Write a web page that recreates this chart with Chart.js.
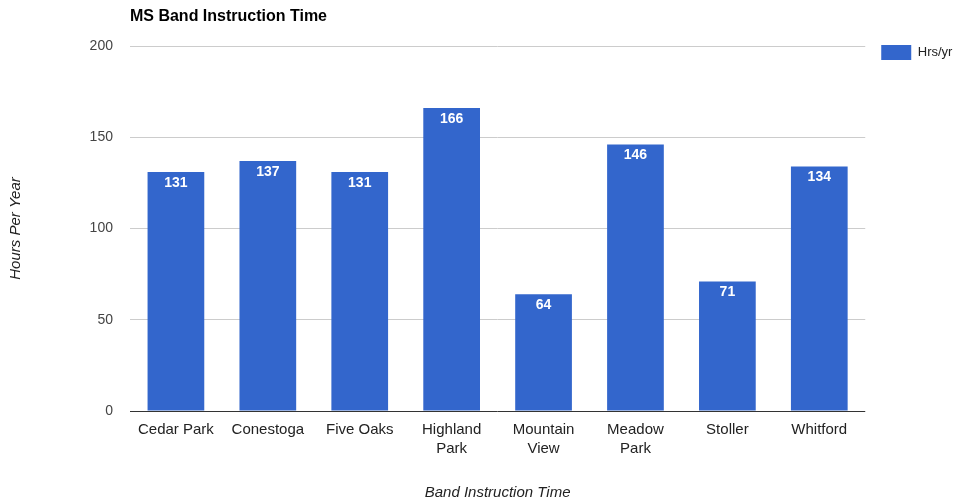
<!DOCTYPE html>
<html>
<head>
<meta charset="utf-8">
<script src="https://cdn.jsdelivr.net/npm/chart.js@4/dist/chart.umd.min.js"></script>
<style>
  html, body { margin: 0; padding: 0; background: #fff; }
  #wrap { width: 959px; height: 500px; }
</style>
</head>
<body>
<div id="wrap"><canvas id="c" width="959" height="500"></canvas></div>
<script>
// Middle-school band instruction hours per year, by school
const schools = [
  'Cedar Park', 'Conestoga', 'Five Oaks', ['Highland', 'Park'],
  ['Mountain', 'View'], ['Meadow', 'Park'], 'Stoller', 'Whitford'
];
const hoursPerYear = [131, 137, 131, 166, 64, 146, 71, 134];
const seriesName = 'Hrs/yr';
const yTicks = [0, 50, 100, 150, 200];

const FONT = 'Arial, "Liberation Sans", sans-serif';
const BLUE = '#3366cc';

// Writes each bar's value in white just inside its top edge
const barValueLabels = {
  id: 'barValueLabels',
  afterDatasetsDraw(chart) {
    const ctx = chart.ctx;
    const meta = chart.getDatasetMeta(0);
    const values = chart.data.datasets[0].data;
    ctx.save();
    ctx.fillStyle = '#ffffff';
    ctx.font = 'bold 14px ' + FONT;
    ctx.textAlign = 'center';
    ctx.textBaseline = 'middle';
    meta.data.forEach((bar, i) => {
      ctx.fillText(String(values[i]), bar.x, bar.y + 11);
    });
    ctx.restore();
  }
};

// Sets the legend a little away from the plot and level with its top line
const legendOffset = {
  id: 'legendOffset',
  afterLayout(chart) {
    const lg = chart.legend;
    if (!lg) return;
    lg.left += 10; lg.right += 10;
    lg.top -= 7; lg.bottom -= 7;
  }
};

new Chart(document.getElementById('c'), {
  type: 'bar',
  data: {
    labels: schools,
    datasets: [{
      label: seriesName,
      data: hoursPerYear,
      backgroundColor: BLUE,
      borderWidth: 0,
      barPercentage: 0.617,
      categoryPercentage: 1.0
    }]
  },
  options: {
    responsive: false,
    animation: false,
    layout: { padding: { left: 6, right: 6.6, top: 0, bottom: 0 } },
    plugins: {
      title: {
        display: true,
        text: 'MS Band Instruction Time',
        align: 'start',
        fullSize: false,
        color: '#000',
        font: { family: FONT, size: 16, weight: 'bold' },
        padding: { top: 7, bottom: 19.8 }
      },
      legend: {
        display: true,
        position: 'right',
        align: 'start',
        fullSize: false,
        labels: {
          boxWidth: 30,
          boxHeight: 15,
          color: '#222',
          font: { family: FONT, size: 13 },
          padding: 6
        }
      },
      tooltip: { enabled: false }
    },
    scales: {
      x: {
        grid: { display: false, drawTicks: false },
        border: { display: false },
        ticks: {
          color: '#222',
          font: { family: FONT, size: 15, lineHeight: 1.3 },
          maxRotation: 0,
          autoSkip: false,
          padding: 8.75
        },
        title: {
          display: true,
          text: 'Band Instruction Time',
          color: '#222',
          font: { family: FONT, size: 15, style: 'italic' },
          padding: { top: 16.5, bottom: -2 }
        }
      },
      y: {
        min: 0,
        max: 200,
        afterBuildTicks(axis) {
          axis.ticks = yTicks.map(v => ({ value: v }));
        },
        grid: {
          color: c => (c.tick && c.tick.value === 0 ? '#333333' : '#cccccc'),
          drawTicks: false,
          lineWidth: 1
        },
        border: { display: false },
        ticks: {
          color: '#444',
          font: { family: FONT, size: 14 },
          padding: 17
        },
        title: {
          display: true,
          text: 'Hours Per Year',
          color: '#222',
          font: { family: FONT, size: 15, style: 'italic' },
          padding: { top: 1, bottom: 47.6 }
        }
      }
    }
  },
  plugins: [barValueLabels, legendOffset]
});
</script>
</body>
</html>
